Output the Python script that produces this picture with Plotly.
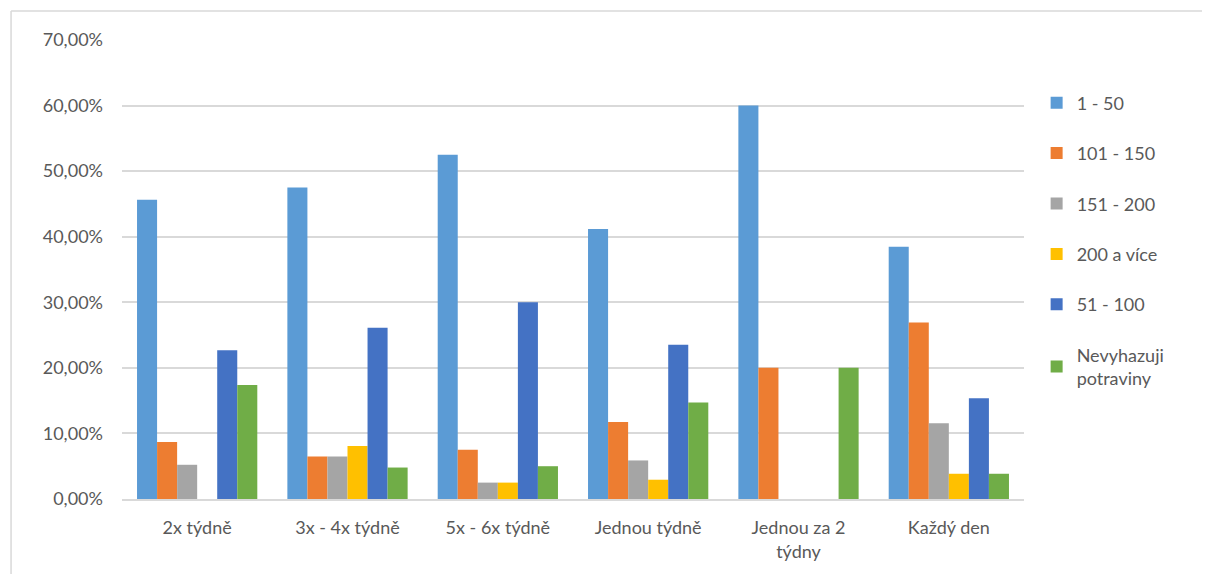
import plotly.graph_objects as go

# categories (how often food is thrown away)
categories = ["2x týdně", "3x - 4x týdně", "5x - 6x týdně", "Jednou týdně",
              "Jednou za 2<br>týdny", "Každý den"]

# share of respondents per amount (Kč) thrown away
s_1_50 = [0.4565, 0.4750, 0.5250, 0.4118, 0.60, 0.3846]
s_101_150 = [0.0870, 0.0650, 0.0750, 0.1176, 0.20, 0.2692]
s_151_200 = [0.0522, 0.0650, 0.0250, 0.0588, 0.0, 0.1154]
s_200_plus = [0.0, 0.0810, 0.0250, 0.0294, 0.0, 0.0385]
s_51_100 = [0.2270, 0.2610, 0.30, 0.2353, 0.0, 0.1538]
s_none = [0.1739, 0.0480, 0.05, 0.1471, 0.20, 0.0385]

series = [
    ("1 - 50", s_1_50, "#5B9BD5"),
    ("101 - 150", s_101_150, "#ED7D31"),
    ("151 - 200", s_151_200, "#A5A5A5"),
    ("200 a více", s_200_plus, "#FFC000"),
    ("51 - 100", s_51_100, "#4472C4"),
    ("Nevyhazuji<br>potraviny", s_none, "#70AD47"),
]

fig = go.Figure()
for i, (name, vals, col) in enumerate(series):
    fig.add_trace(go.Bar(x=categories, y=vals, name=name, legendgroup=str(i),
                         marker=dict(color=col, line=dict(width=0))))

# page body has an 8px margin all round, so keep the figure inside the window
fig.update_layout(
    width=1194, height=566,
    margin=dict(l=114, r=178, t=32, b=75),
    paper_bgcolor="white", plot_bgcolor="white",
    font=dict(family="Lato", size=18, color="#595959"),
    separators=", ",
    barmode="group", bargap=0.2, bargroupgap=0,
    legend=dict(x=1.014, y=0.903, yanchor="top", xanchor="left",
                font=dict(size=18, color="#595959"),
                tracegroupgap=24, itemwidth=30),
    showlegend=True,
)
fig.update_yaxes(range=[0, 0.7], dtick=0.1, tickformat=".2%",
                 showgrid=True, gridcolor="#D9D9D9", gridwidth=1.5,
                 zeroline=False, showline=False, ticks="",
                 ticklabelstandoff=18, tickfont=dict(size=18))
fig.update_xaxes(showline=True, linecolor="#D9D9D9", linewidth=1.5,
                 ticks="", tickfont=dict(size=18), ticklabelstandoff=12)

# outer chart border (only top and left edges are inside the picture)
border = dict(color="#D9D9D9", width=1.5)
fig.add_shape(type="line", xref="paper", yref="paper",
              x0=-0.123, x1=1.3, y0=1.063, y1=1.063, line=border, layer="below")
fig.add_shape(type="line", xref="paper", yref="paper",
              x0=-0.123, x1=-0.123, y0=-0.3, y1=1.063, line=border, layer="below")

fig.write_html("out.html")
